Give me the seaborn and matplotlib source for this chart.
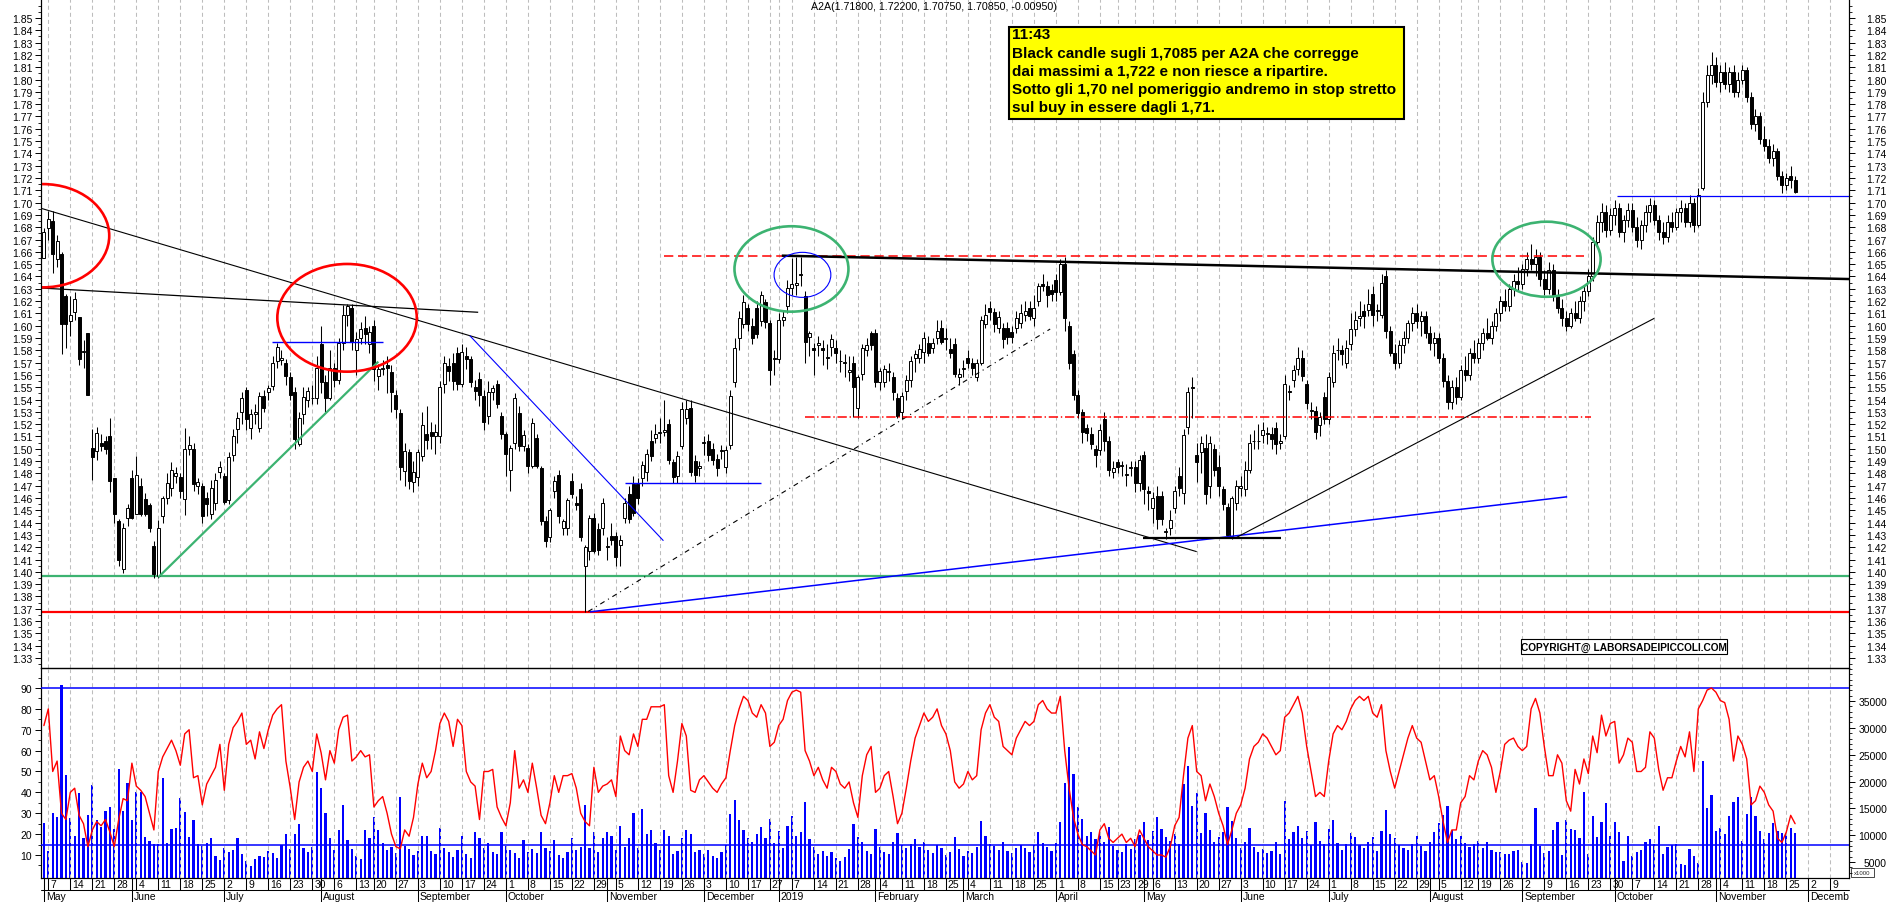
import numpy as np
import pandas as pd
import matplotlib
matplotlib.use("Agg")
import matplotlib.pyplot as plt
import matplotlib.transforms as mtrans
from matplotlib.lines import Line2D
from matplotlib.patches import Ellipse, Rectangle
import seaborn as sns

# ---------------- data (daily bars, May 4 2018 -> Nov 27 2019) ----------------
opens = [
 1.655,1.679,1.685,1.654,1.658,1.624,1.604,1.611,1.607,1.579,
 1.594,1.501,1.498,1.505,1.506,1.510,1.476,1.441,1.402,1.444,
 1.476,1.447,1.470,1.459,1.454,1.421,1.397,1.445,1.460,1.468,
 1.478,1.477,1.459,1.500,1.500,1.470,1.470,1.460,1.447,1.456,
 1.481,1.478,1.458,1.495,1.516,1.530,1.548,1.517,1.528,1.517,
 1.543,1.546,1.551,1.571,1.572,1.570,1.558,1.546,1.504,1.528,
 1.540,1.541,1.541,1.585,1.554,1.541,1.566,1.556,1.586,1.609,
 1.614,1.580,1.590,1.598,1.585,1.600,1.559,1.565,1.568,1.562,
 1.544,1.529,1.482,1.497,1.473,1.477,1.494,1.512,1.514,1.510,
 1.510,1.553,1.567,1.570,1.578,1.553,1.575,1.573,1.550,1.557,
 1.543,1.527,1.546,1.553,1.527,1.512,1.483,1.505,1.529,1.502,
 1.501,1.486,1.509,1.484,1.441,1.428,1.466,1.479,1.436,1.436,
 1.474,1.456,1.467,1.405,1.417,1.444,1.435,1.436,1.420,1.429,
 1.429,1.422,1.444,1.463,1.471,1.471,1.476,1.481,1.506,1.509,
 1.513,1.514,1.520,1.489,1.478,1.502,1.525,1.533,1.490,1.484,
 1.505,1.506,1.500,1.492,1.498,1.485,1.503,1.554,1.590,1.601,
 1.614,1.600,1.614,1.604,1.619,1.602,1.573,1.573,1.605,1.616,
 1.631,1.633,1.641,1.624,1.591,1.582,1.584,1.582,1.574,1.583,
 1.582,1.571,1.570,1.562,1.570,1.533,1.561,1.580,1.594,1.594,
 1.554,1.554,1.562,1.558,1.541,1.530,1.547,1.556,1.574,1.574,
 1.579,1.586,1.582,1.590,1.598,1.589,1.581,1.585,1.558,1.565,
 1.574,1.570,1.558,1.570,1.601,1.614,1.611,1.598,1.598,1.598,
 1.595,1.598,1.602,1.609,1.614,1.606,1.620,1.634,1.632,1.629,
 1.637,1.627,1.650,1.600,1.577,1.544,1.530,1.517,1.512,1.500,
 1.499,1.524,1.506,1.481,1.489,1.486,1.479,1.484,1.485,1.472,
 1.495,1.466,1.452,1.462,1.462,1.432,1.436,1.452,1.478,1.464,
 1.518,1.549,1.495,1.497,1.501,1.470,1.500,1.485,1.467,1.453,
 1.429,1.456,1.468,1.467,1.483,1.506,1.506,1.511,1.512,1.512,
 1.517,1.505,1.510,1.547,1.556,1.565,1.574,1.553,1.531,1.531,
 1.519,1.542,1.524,1.554,1.580,1.580,1.570,1.585,1.597,1.606,
 1.612,1.613,1.626,1.612,1.609,1.640,1.596,1.578,1.570,1.584,
 1.590,1.602,1.610,1.604,1.608,1.594,1.586,1.590,1.574,1.555,
 1.538,1.550,1.542,1.564,1.560,1.578,1.574,1.586,1.594,1.590,
 1.600,1.610,1.620,1.616,1.630,1.636,1.634,1.646,1.654,1.650,
 1.656,1.638,1.630,1.645,1.624,1.614,1.606,1.600,1.610,1.606,
 1.620,1.628,1.640,1.668,1.684,1.692,1.678,1.690,1.696,1.676,
 1.686,1.694,1.680,1.670,1.682,1.692,1.698,1.686,1.676,1.672,
 1.684,1.680,1.692,1.696,1.684,1.700,1.682,1.712,1.782,1.804,
 1.812,1.798,1.806,1.796,1.806,1.790,1.800,1.808,1.786,1.764,
 1.770,1.752,1.746,1.736,1.742,1.722,1.714,1.722,1.718]

highs = [
 1.679,1.693,1.693,1.674,1.660,1.626,1.624,1.627,1.607,1.588,
 1.594,1.516,1.518,1.512,1.510,1.525,1.476,1.443,1.440,1.455,
 1.483,1.494,1.476,1.464,1.456,1.425,1.442,1.462,1.480,1.489,
 1.485,1.480,1.517,1.510,1.505,1.476,1.472,1.465,1.475,1.480,
 1.490,1.480,1.497,1.516,1.530,1.546,1.550,1.532,1.536,1.546,
 1.548,1.552,1.575,1.586,1.580,1.573,1.562,1.550,1.530,1.550,
 1.550,1.552,1.575,1.600,1.560,1.580,1.570,1.590,1.617,1.618,
 1.618,1.595,1.603,1.608,1.600,1.605,1.569,1.572,1.575,1.568,
 1.548,1.532,1.505,1.500,1.490,1.500,1.530,1.535,1.522,1.520,
 1.555,1.575,1.574,1.578,1.583,1.585,1.583,1.575,1.556,1.562,
 1.548,1.555,1.552,1.556,1.530,1.514,1.503,1.545,1.535,1.515,
 1.504,1.525,1.512,1.486,1.445,1.452,1.478,1.483,1.443,1.460,
 1.480,1.462,1.472,1.422,1.446,1.448,1.440,1.460,1.428,1.440,
 1.432,1.430,1.460,1.470,1.478,1.476,1.490,1.500,1.515,1.520,
 1.525,1.540,1.524,1.492,1.498,1.538,1.540,1.540,1.495,1.490,
 1.510,1.512,1.505,1.496,1.503,1.502,1.548,1.590,1.612,1.625,
 1.618,1.606,1.620,1.628,1.622,1.605,1.580,1.610,1.612,1.637,
 1.655,1.656,1.656,1.628,1.596,1.586,1.592,1.588,1.585,1.593,
 1.588,1.580,1.577,1.575,1.575,1.560,1.585,1.590,1.596,1.597,
 1.566,1.568,1.570,1.562,1.545,1.546,1.560,1.575,1.580,1.585,
 1.595,1.592,1.590,1.605,1.605,1.598,1.590,1.590,1.566,1.572,
 1.580,1.574,1.573,1.608,1.618,1.620,1.614,1.612,1.602,1.603,
 1.600,1.612,1.618,1.620,1.620,1.625,1.635,1.642,1.636,1.634,
 1.642,1.654,1.656,1.604,1.580,1.548,1.532,1.520,1.518,1.503,
 1.520,1.530,1.510,1.490,1.492,1.490,1.488,1.490,1.490,1.495,
 1.498,1.470,1.465,1.470,1.466,1.436,1.450,1.470,1.485,1.516,
 1.550,1.558,1.505,1.510,1.512,1.510,1.504,1.495,1.470,1.456,
 1.462,1.475,1.478,1.490,1.512,1.515,1.520,1.522,1.518,1.518,
 1.522,1.512,1.560,1.552,1.568,1.583,1.580,1.556,1.538,1.535,
 1.530,1.546,1.562,1.584,1.590,1.584,1.588,1.610,1.612,1.620,
 1.618,1.630,1.632,1.618,1.642,1.645,1.600,1.585,1.588,1.596,
 1.605,1.615,1.618,1.612,1.612,1.600,1.595,1.594,1.578,1.560,
 1.556,1.558,1.568,1.575,1.582,1.588,1.590,1.598,1.606,1.604,
 1.614,1.624,1.630,1.634,1.642,1.648,1.650,1.660,1.666,1.662,
 1.660,1.645,1.652,1.650,1.630,1.622,1.612,1.614,1.620,1.624,
 1.632,1.646,1.672,1.690,1.700,1.698,1.696,1.702,1.700,1.690,
 1.700,1.700,1.688,1.686,1.698,1.704,1.702,1.690,1.684,1.690,
 1.692,1.696,1.702,1.700,1.706,1.704,1.712,1.790,1.812,1.822,
 1.818,1.812,1.814,1.810,1.812,1.806,1.812,1.810,1.790,1.776,
 1.774,1.762,1.752,1.748,1.744,1.726,1.724,1.730,1.722]

lows = [
 1.655,1.670,1.643,1.648,1.577,1.582,1.592,1.605,1.568,1.566,
 1.544,1.475,1.491,1.498,1.496,1.465,1.440,1.405,1.399,1.437,
 1.443,1.447,1.445,1.445,1.432,1.395,1.395,1.440,1.455,1.462,
 1.472,1.460,1.446,1.495,1.466,1.463,1.440,1.445,1.443,1.450,
 1.476,1.455,1.455,1.490,1.505,1.520,1.515,1.508,1.520,1.514,
 1.530,1.540,1.548,1.566,1.568,1.552,1.540,1.500,1.502,1.520,
 1.534,1.536,1.536,1.545,1.530,1.540,1.550,1.553,1.580,1.600,
 1.580,1.560,1.585,1.585,1.578,1.555,1.548,1.560,1.545,1.530,
 1.525,1.475,1.470,1.467,1.465,1.470,1.490,1.500,1.500,1.496,
 1.505,1.545,1.555,1.548,1.548,1.550,1.565,1.550,1.540,1.535,
 1.515,1.520,1.540,1.533,1.508,1.478,1.466,1.500,1.498,1.498,
 1.480,1.484,1.484,1.438,1.420,1.424,1.460,1.440,1.430,1.430,
 1.460,1.450,1.425,1.367,1.410,1.415,1.414,1.430,1.410,1.422,
 1.405,1.405,1.440,1.440,1.445,1.455,1.470,1.474,1.490,1.505,
 1.505,1.510,1.488,1.472,1.472,1.500,1.520,1.478,1.473,1.478,
 1.495,1.490,1.487,1.478,1.492,1.480,1.500,1.550,1.580,1.598,
 1.596,1.585,1.590,1.600,1.598,1.552,1.560,1.570,1.600,1.610,
 1.625,1.625,1.632,1.570,1.575,1.560,1.575,1.568,1.565,1.575,
 1.570,1.562,1.558,1.555,1.526,1.525,1.556,1.575,1.580,1.550,
 1.548,1.550,1.555,1.540,1.525,1.524,1.540,1.550,1.562,1.570,
 1.570,1.575,1.578,1.585,1.585,1.580,1.574,1.558,1.552,1.558,
 1.566,1.560,1.555,1.568,1.598,1.605,1.595,1.594,1.582,1.585,
 1.586,1.594,1.598,1.604,1.605,1.600,1.616,1.628,1.615,1.620,
 1.620,1.625,1.596,1.565,1.540,1.525,1.505,1.506,1.500,1.485,
 1.495,1.498,1.478,1.476,1.480,1.478,1.470,1.478,1.465,1.466,
 1.455,1.450,1.440,1.435,1.438,1.427,1.430,1.448,1.462,1.455,
 1.512,1.525,1.473,1.480,1.455,1.460,1.478,1.462,1.450,1.428,
 1.427,1.450,1.462,1.462,1.480,1.500,1.500,1.505,1.504,1.500,
 1.496,1.500,1.508,1.540,1.550,1.560,1.555,1.532,1.524,1.508,
 1.510,1.520,1.520,1.550,1.572,1.568,1.566,1.580,1.592,1.600,
 1.598,1.608,1.600,1.604,1.606,1.590,1.575,1.565,1.566,1.578,
 1.586,1.596,1.598,1.592,1.590,1.580,1.575,1.570,1.550,1.532,
 1.532,1.536,1.540,1.555,1.556,1.570,1.570,1.580,1.588,1.585,
 1.596,1.604,1.612,1.612,1.624,1.628,1.630,1.640,1.645,1.640,
 1.632,1.625,1.626,1.620,1.610,1.600,1.596,1.598,1.604,1.602,
 1.612,1.624,1.636,1.664,1.676,1.672,1.674,1.682,1.672,1.668,
 1.680,1.676,1.664,1.662,1.676,1.684,1.682,1.670,1.666,1.668,
 1.676,1.678,1.684,1.680,1.680,1.676,1.680,1.710,1.778,1.796,
 1.794,1.790,1.792,1.790,1.786,1.786,1.796,1.782,1.760,1.758,
 1.748,1.742,1.732,1.730,1.718,1.708,1.710,1.712,1.7075]

closes = [
 1.676,1.687,1.658,1.669,1.601,1.601,1.609,1.622,1.573,1.579,
 1.544,1.493,1.513,1.502,1.500,1.474,1.447,1.410,1.436,1.452,
 1.444,1.479,1.447,1.447,1.436,1.398,1.436,1.460,1.472,1.483,
 1.480,1.466,1.500,1.503,1.471,1.473,1.445,1.455,1.468,1.475,
 1.485,1.457,1.493,1.510,1.525,1.541,1.524,1.528,1.530,1.543,
 1.533,1.549,1.570,1.583,1.574,1.559,1.544,1.508,1.525,1.542,
 1.547,1.541,1.566,1.554,1.541,1.566,1.556,1.586,1.609,1.616,
 1.587,1.589,1.597,1.593,1.595,1.565,1.565,1.565,1.566,1.546,
 1.532,1.485,1.498,1.474,1.481,1.497,1.519,1.507,1.510,1.514,
 1.550,1.570,1.563,1.555,1.553,1.579,1.573,1.554,1.547,1.544,
 1.522,1.546,1.549,1.536,1.512,1.496,1.501,1.541,1.502,1.511,
 1.486,1.521,1.486,1.441,1.425,1.450,1.474,1.445,1.441,1.458,
 1.463,1.454,1.428,1.420,1.444,1.417,1.418,1.456,1.421,1.426,
 1.412,1.426,1.456,1.443,1.448,1.460,1.487,1.496,1.494,1.512,
 1.514,1.515,1.491,1.477,1.494,1.532,1.532,1.481,1.479,1.486,
 1.505,1.495,1.491,1.484,1.498,1.499,1.543,1.582,1.606,1.619,
 1.601,1.590,1.593,1.625,1.603,1.564,1.573,1.605,1.607,1.631,
 1.634,1.635,1.642,1.587,1.594,1.580,1.586,1.580,1.574,1.589,
 1.578,1.571,1.570,1.564,1.550,1.558,1.582,1.584,1.584,1.554,
 1.563,1.565,1.563,1.546,1.527,1.543,1.556,1.571,1.577,1.581,
 1.590,1.578,1.586,1.596,1.587,1.589,1.578,1.561,1.561,1.565,
 1.570,1.566,1.570,1.605,1.609,1.611,1.601,1.607,1.589,1.591,
 1.591,1.606,1.610,1.612,1.608,1.614,1.632,1.632,1.625,1.626,
 1.627,1.650,1.606,1.570,1.544,1.529,1.514,1.513,1.504,1.495,
 1.515,1.506,1.483,1.484,1.485,1.486,1.479,1.485,1.472,1.491,
 1.467,1.464,1.460,1.443,1.443,1.433,1.442,1.466,1.468,1.511,
 1.546,1.550,1.489,1.505,1.463,1.505,1.483,1.470,1.455,1.430,
 1.460,1.470,1.470,1.483,1.505,1.506,1.506,1.515,1.512,1.508,
 1.504,1.506,1.553,1.546,1.564,1.574,1.559,1.537,1.531,1.514,
 1.526,1.524,1.558,1.578,1.580,1.577,1.582,1.597,1.605,1.608,
 1.608,1.618,1.609,1.612,1.635,1.596,1.578,1.570,1.584,1.590,
 1.602,1.610,1.604,1.608,1.594,1.586,1.590,1.574,1.555,1.538,
 1.550,1.542,1.564,1.560,1.578,1.574,1.586,1.594,1.590,1.600,
 1.610,1.620,1.616,1.630,1.636,1.634,1.646,1.654,1.650,1.656,
 1.638,1.630,1.645,1.624,1.614,1.606,1.600,1.610,1.606,1.620,
 1.628,1.640,1.668,1.684,1.692,1.678,1.690,1.696,1.676,1.686,
 1.694,1.680,1.670,1.682,1.692,1.698,1.686,1.676,1.672,1.684,
 1.680,1.692,1.696,1.684,1.700,1.682,1.706,1.782,1.804,1.812,
 1.798,1.806,1.796,1.806,1.790,1.800,1.808,1.786,1.764,1.770,
 1.752,1.746,1.736,1.742,1.722,1.714,1.720,1.718,1.7085]

# volume (x1000 shares, right scale of lower panel)
volume = [
 12200,7000,14070,13440,37900,21200,13140,9900,17800,9500,
 13760,19340,12830,11460,14440,15190,11150,22300,14440,19650,
 12830,18120,18120,9620,8870,8350,8350,20650,8500,11150,
 11340,16880,14380,9660,12830,8350,8040,8630,9410,6200,
 5400,7600,6800,7200,9410,6500,5200,4300,5600,6100,
 5900,7000,6600,5800,8240,10190,7400,10190,12140,7600,
 6900,7800,21860,18750,14080,9410,7300,10970,15640,9020,
 7500,6200,5600,10970,9410,13300,10970,8630,7200,7800,
 6600,17190,7900,7400,6300,7100,9800,9800,7000,6400,
 11360,7600,6800,5900,7200,9800,6500,5800,10580,9410,
 7700,8630,6900,6400,10580,7900,7300,6600,5800,9020,
 6900,7500,6600,10580,7600,7000,9020,6300,5700,6900,
 9410,7200,7800,15640,7600,10580,6900,9410,10580,9800,
 7200,11750,7800,9410,14080,7600,14860,10190,10970,8630,
 7200,10970,9800,6400,7000,9410,10970,10190,6800,7200,
 6500,7200,6100,5800,6900,8200,14000,16500,12800,11000,
 9500,8800,10200,11500,9400,13000,8600,10800,7600,11800,
 13500,9800,10600,16200,9200,7800,6400,7000,6200,6900,
 5800,5200,6000,7400,12000,9600,8800,7100,6500,11200,
 7800,6900,6400,8700,10400,8200,7600,8400,9200,7800,
 8800,7200,6600,8100,7700,6300,6800,9600,7400,6100,
 7000,6600,7800,12600,9800,8400,7900,7300,8800,7000,
 6600,7700,8200,7600,6900,8100,10600,8500,7800,7000,
 8600,12400,19800,26500,21400,15200,13100,9800,10600,9200,
 10400,8800,11600,8000,7200,6900,8300,7400,9300,10000,
 12500,9100,10800,13400,11200,9600,8900,10200,8400,19600,
 22800,15400,17800,10400,14200,11000,8700,9600,10500,15200,
 12600,9400,7600,8800,11400,7800,6900,7400,6600,7100,
 8800,6500,16400,9200,10600,11800,9400,10800,8200,12400,
 9000,8400,11200,12800,8600,7200,8300,10400,9600,8100,
 7600,8800,9700,7000,10800,14600,10200,9400,8100,7600,
 7300,8400,9800,7900,7100,8800,10600,12200,13800,15400,
 11000,9200,9800,8600,7800,8400,9000,7600,8800,7200,
 6800,6800,6490,6490,6990,7300,5000,4800,8350,15060,
 8040,6680,6990,10960,12510,6300,12820,11150,10960,9470,
 17980,6490,13510,9600,12400,15930,9790,12400,10530,5200,
 9900,6180,6930,7240,8670,9280,8350,11650,6490,7740,
 8170,8300,4600,4400,7420,6180,4800,23880,15000,17480,
 10720,11280,10220,13510,16120,17050,8970,13940,17050,13510,
 10720,9280,10350,12200,10720,10350,10350,11280,10350]

# oscillator (left scale of lower panel, 0-100)
oscillator = [
 72,80,50,55,30,27,40,42,29,25,
 14,22,26,24,27,21,14,27,37,36,
 54,43,41,38,30,22,50,57,61,65,
 60,53,68,70,47,48,34,44,48,52,
 63,41,63,71,74,78,63,65,56,69,
 61,70,77,80,82,55,42,27,45,52,
 55,50,68,59,46,60,54,70,76,77,
 55,57,60,57,58,33,36,38,30,20,
 14,13,22,19,28,44,54,47,50,60,
 73,78,74,62,75,72,50,45,43,27,
 50,50,51,33,28,24,35,60,42,46,
 40,54,42,29,25,35,48,40,48,48,
 49,42,30,26,24,52,40,43,44,46,
 38,67,60,58,68,62,75,75,81,81,
 81,82,48,40,55,73,67,41,40,46,
 48,45,42,40,44,47,60,72,80,86,
 84,78,76,82,78,62,64,72,75,84,
 88,89,88,60,55,48,52,46,42,52,
 50,44,42,45,35,28,48,58,62,40,
 42,48,50,38,25,30,42,55,66,72,
 78,74,76,80,72,68,60,45,42,44,
 50,46,48,70,78,82,76,74,62,60,
 58,66,70,74,72,74,82,84,80,78,
 78,86,60,42,28,20,15,14,12,10,
 22,25,18,16,18,20,16,18,14,22,
 18,14,12,10,10,9,14,24,28,48,
 66,72,50,48,36,44,38,30,24,15,
 22,30,34,42,56,62,64,68,66,62,
 58,60,76,78,82,86,78,62,50,38,
 40,38,55,68,72,70,74,80,84,86,
 84,86,78,76,82,60,50,42,50,58,
 66,72,66,64,55,46,48,38,26,16,
 22,22,35,38,48,46,55,60,58,52,
 40,50,63,65,66,62,60,62,80,85,
 78,62,48,48,58,54,36,31,51,44,
 56,49,67,59,77,67,73,74,54,58,
 66,64,50,50,52,69,66,51,41,47,
 47,55,62,57,69,50,80,84,89,90,
 88,84,83,75,55,67,63,56,34,36,
 43,40,34,31,18,16,21,29,25]

for name, arr in [("opens", opens), ("highs", highs), ("lows", lows),
                  ("closes", closes), ("volume", volume), ("oscillator", oscillator)]:
    assert len(arr) == 399, (name, len(arr))

holidays = ["2018-08-15", "2018-12-24", "2018-12-25", "2018-12-26", "2018-12-31",
            "2019-01-01", "2019-04-19", "2019-04-22", "2019-05-01", "2019-08-15",
            "2019-12-24", "2019-12-25", "2019-12-26", "2019-12-31"]
month_names = ["January", "February", "March", "April", "May", "June", "July",
               "August", "September", "October", "November", "December"]

title_text = "A2A(1.71800, 1.72200, 1.70750, 1.70850, -0.00950)"
note_lines = ["11:43",
              "Black candle sugli 1,7085 per A2A che corregge",
              "dai massimi a 1,722 e non riesce a ripartire.",
              "Sotto gli 1,70 nel pomeriggio andremo in stop stretto",
              "sul buy in essere dagli 1,71."]
copyright_text = "COPYRIGHT@ LABORSADEIPICCOLI.COM"

# analysis drawings, in (bar index, price) units
support_red = 1.3675
support_green = 1.3969
segments = [  # (x0, y0, x1, y1, color, lw_pt, style)
    (-0.66, 1.6954, 262.0, 1.4164, "black", 0.8, "-"),
    (-0.66, 1.6306, 98.7, 1.6109, "black", 0.9, "-"),
    (26.0, 1.3956, 76.0, 1.5708, "#3cb371", 1.6, "-"),
    (51.8, 1.5865, 77.1, 1.5865, "#0000ff", 1.0, "-"),
    (96.8, 1.5919, 140.8, 1.4253, "#0000ff", 0.8, "-"),
    (132.1, 1.4722, 162.9, 1.4722, "#0000ff", 1.0, "-"),
    (123.7, 1.3678, 228.7, 1.5973, "black", 0.8, (0, (3.6, 2.9, 0.8, 2.9))),
    (124.1, 1.3675, 346.2, 1.4610, "#0000ff", 1.1, "-"),
    (140.9, 1.6564, 350.0, 1.6564, "#ff0000", 1.1, (0, (6.7, 3.4))),
    (167.7, 1.6569, 410.3, 1.6379, "black", 1.8, "-"),
    (173.0, 1.5256, 351.6, 1.5256, "#ff0000", 1.1, (0, (6.7, 2.0, 1.0, 2.0))),
    (249.7, 1.4273, 281.1, 1.4273, "black", 1.6, "-"),
    (271.1, 1.4281, 366.0, 1.6060, "black", 0.8, "-"),
    (357.6, 1.7056, 410.3, 1.7056, "#0000ff", 0.9, "-"),
]
ellipses = [  # (cx, cy, width, height, color, lw_pt)
    (-0.2, 1.6731, 30.1, 0.0839, "#ff0000", 1.9),
    (68.9, 1.6064, 31.7, 0.0875, "#ff0000", 1.9),
    (169.9, 1.6461, 25.9, 0.0694, "#3cb371", 1.9),
    (172.4, 1.6413, 12.9, 0.0366, "#0000ff", 0.8),
    (341.5, 1.6540, 24.6, 0.0610, "#3cb371", 1.9),
]

# ---------------- figure ----------------
sns.set_theme(style="white")
plt.rcParams['font.family'] = ['Liberation Sans', 'DejaVu Sans']
plt.rcParams['lines.scale_dashes'] = False
plt.rcParams['axes.edgecolor'] = 'black'
plt.rcParams['axes.linewidth'] = 0.8

W, H = 1890, 903
fig = plt.figure(figsize=(W / 100, H / 100), dpi=100)
fig.patch.set_facecolor('white')

L, R = 41, 1849
MAIN_T, MAIN_B = 0, 669
LOW_T, LOW_B = 669, 879


def frect(l, t, r, b):
    return [l / W, 1 - b / H, (r - l) / W, (b - t) / H]


X0PX, DXPX = 43.9, 4.4
XMIN = (L - X0PX) / DXPX
XMAX = (R - X0PX) / DXPX

ax = fig.add_axes(frect(L, MAIN_T, R, MAIN_B))
axr = ax.twinx()
axl = fig.add_axes(frect(L, LOW_T, R, LOW_B))
axv = axl.twinx()
for a in (ax, axr, axl, axv):
    a.set_xlim(XMIN, XMAX)
    a.set_facecolor('none')
    a.grid(False)

n = len(closes)
idx = np.arange(n)
o = np.array(opens); h = np.array(highs); lo = np.array(lows); c = np.array(closes)

# calendar
cal = pd.bdate_range("2018-05-04", "2019-12-31")
cal = cal[~cal.isin(pd.to_datetime(holidays))]
pos = np.arange(len(cal))
keep = pos <= XMAX + 0.5
cal = cal[keep]; pos = pos[keep]
iso = cal.isocalendar()
wkey = (iso['year'].to_numpy() * 100 + iso['week'].to_numpy())
week_first = np.r_[True, wkey[1:] != wkey[:-1]]
mkey = cal.year.to_numpy() * 100 + cal.month.to_numpy()
month_first = np.r_[True, mkey[1:] != mkey[:-1]]
week_pos = pos[week_first]
month_pos = pos[month_first]

grid_kw = dict(color='#bdbdbd', lw=0.75, ls=(0, (2.9, 2.2)), zorder=0.5)
for p in week_pos[1:]:
    ax.axvline(p, **grid_kw)
    axl.axvline(p, **grid_kw)

# support lines
ax.axhline(support_green, color='#3cb371', lw=1.6, zorder=2)
ax.axhline(support_red, color='#ff0000', lw=1.6, zorder=2)

# candles
ax.vlines(idx, np.minimum(lo, np.minimum(o, c)), np.maximum(h, np.maximum(o, c)),
          color='black', lw=0.75, zorder=3)
up = c >= o
body_h = np.maximum(np.abs(c - o), 0.0006)
bottom = np.minimum(o, c)
ax.bar(idx[up], body_h[up], bottom=bottom[up], width=0.72, color='white',
       edgecolor='black', linewidth=0.7, zorder=4)
ax.bar(idx[~up], body_h[~up], bottom=bottom[~up], width=0.72, color='black',
       edgecolor='black', linewidth=0.7, zorder=4)

for x0, y0, x1, y1, col, lw, st in segments:
    ax.plot([x0, x1], [y0, y1], color=col, lw=lw, ls=st, zorder=5,
            solid_capstyle='butt')
for cx, cy, ew, eh, col, lw in ellipses:
    ax.add_patch(Ellipse((cx, cy), ew, eh, fill=False, edgecolor=col, lw=lw, zorder=6))

YMIN, YMAX = 1.32188, 1.86544
for a in (ax, axr):
    a.set_ylim(YMIN, YMAX)
major = np.round(np.arange(1.33, 1.8501, 0.01), 2)
minor = np.round(np.arange(1.325, 1.8601, 0.005), 3)
lab = [f"{v:.2f}" for v in major]
ax.set_yticks(major, labels=lab)
ax.set_yticks(minor, minor=True)
axr.set_yticks(major, labels=lab)
axr.set_yticks(minor, minor=True)
ax.tick_params(axis='y', which='major', direction='out', length=4.3, width=0.7,
               labelsize=7.5, pad=2, left=True, right=False, colors='black')
ax.tick_params(axis='y', which='minor', direction='out', length=2.5, width=0.7,
               left=True, right=False)
axr.tick_params(axis='y', which='major', direction='out', length=4.3, width=0.7,
                labelsize=7.5, pad=23, right=True, colors='black')
axr.tick_params(axis='y', which='minor', direction='out', length=2.5, width=0.7, right=True)
for a in (ax, axr, axl, axv):
    a.set_xticks([])
    a.set_xlabel("")
ax.spines['top'].set_visible(False)
axr.spines['top'].set_visible(False)
for a in (ax, axr, axl, axv):
    for s in a.spines.values():
        s.set_color('black'); s.set_linewidth(0.8)

# ---------------- lower panel ----------------
axv.bar(idx, volume, width=0.5, color='#0000ff', linewidth=0, zorder=2)
axv.set_ylim(2019, 41149)
axl.set_ylim(-1.02, 99.58)
axl.set_zorder(axv.get_zorder() + 1)
axl.patch.set_visible(False)
sns.lineplot(x=idx, y=oscillator, ax=axl, color='#ff0000', lw=1.0, zorder=5)
axl.axhline(90, color='#0000ff', lw=1.1, zorder=4)
axl.axhline(14.8, color='#0000ff', lw=1.1, zorder=4)
axl.set_xlabel(""); axl.set_ylabel("")
axl.set_yticks(np.arange(10, 91, 10), labels=[str(v) for v in range(10, 91, 10)])
axl.set_yticks(np.arange(5, 96, 5), minor=True)
axl.tick_params(axis='y', which='major', direction='out', length=4.3, width=0.7,
                labelsize=7.5, pad=2, colors='black')
axl.tick_params(axis='y', which='minor', direction='out', length=2.5, width=0.7)
vt = np.arange(5000, 35001, 5000)
axv.set_yticks(vt, labels=[str(v) for v in vt])
axv.set_yticks(np.arange(3000, 41001, 1000), minor=True)
axv.tick_params(axis='y', which='major', direction='out', length=4.3, width=0.7,
                labelsize=7.5, pad=23, colors='black')
axv.tick_params(axis='y', which='minor', direction='out', length=2.2, width=0.7)
axl.set_xlim(XMIN, XMAX); axv.set_xlim(XMIN, XMAX)

for t in axr.get_yticklabels() + axv.get_yticklabels():
    t.set_horizontalalignment('right')

# ---------------- date rows ----------------
tr = mtrans.blended_transform_factory(ax.transData, fig.transFigure)
clip = mtrans.TransformedBbox(mtrans.Bbox.from_extents(L / W, 0, R / W, 1 - LOW_B / H),
                              fig.transFigure)


def fy(py):
    return 1 - py / H


ROW1_T, ROW1_B, ROW2_B = LOW_B, 890.5, 903
fig.add_artist(Line2D([L / W, R / W], [fy(ROW1_B)] * 2, transform=fig.transFigure,
                      color='black', lw=0.75))
for p in week_pos:
    ln = Line2D([p, p], [fy(ROW1_T), fy(ROW1_B)], transform=tr, color='black', lw=0.75)
    ln.set_clip_box(clip); fig.add_artist(ln)
for p in month_pos:
    ln = Line2D([p, p], [fy(ROW1_T), fy(ROW2_B)], transform=tr, color='black', lw=0.75)
    ln.set_clip_box(clip); fig.add_artist(ln)

last_p = -99
for k, p in enumerate(week_pos):
    nxt = week_pos[k + 1] if k + 1 < len(week_pos) else p + 5
    if nxt - p < 2:
        continue
    if p - last_p < 3:
        continue
    t = fig.text(p + 0.45, fy(885), str(cal[p].day), transform=tr, fontsize=7.5,
                 ha='left', va='center', color='black')
    t.set_clip_box(clip); t.set_clip_on(True)
    last_p = p
for p in month_pos:
    d = cal[p]
    name = str(d.year) if d.month == 1 else month_names[d.month - 1]
    t = fig.text(p + 0.45, fy(897.5), name, transform=tr, fontsize=7.5,
                 ha='left', va='center', color='black')
    t.set_clip_box(clip); t.set_clip_on(True)

# x1000 box
fig.add_artist(Rectangle((1851 / W, fy(878)), 23 / W, 9 / H, transform=fig.transFigure,
                         fill=False, ec='black', lw=0.5))
fig.text(1862.5 / W, fy(873.5), "x1000", fontsize=4.3, ha='center', va='center')

# ---------------- texts ----------------
fig.text(811 / W, fy(7), title_text, fontsize=7.7, ha='left', va='center', color='black')

fig.add_artist(Rectangle((1009 / W, fy(120)), (1404.3 - 1009) / W, (120 - 27.7) / H,
                         transform=fig.transFigure, facecolor='#ffff00',
                         edgecolor='black', lw=1.5, zorder=10))
for k, line in enumerate(note_lines):
    fig.text(1011.7 / W, fy(39.3 + 18.25 * k), line, fontsize=11.0, fontweight='bold',
             ha='left', va='baseline', color='black', zorder=11)

fig.add_artist(Rectangle((1521 / W, fy(655)), (1727 - 1521) / W, 15 / H,
                         transform=fig.transFigure, facecolor='white',
                         edgecolor='black', lw=0.8, zorder=10))
fig.text(1624 / W, fy(647.5), copyright_text, fontsize=7.3, fontweight='bold',
         ha='center', va='center', color='black', zorder=11)

fig.savefig("out.png", dpi=100)
